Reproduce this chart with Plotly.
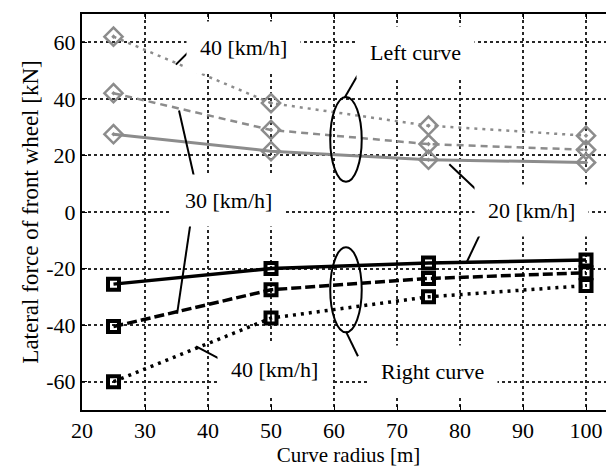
import plotly.graph_objects as go

# ---- data ----
radius = [25, 50, 75, 100]
left_40 = [62, 38.5, 30.5, 27]
left_30 = [42, 29, 24, 22]
left_20 = [27.5, 21.5, 18.5, 17.5]
right_20 = [-25.5, -20, -18, -17]
right_30 = [-40.5, -27.5, -23.5, -21.5]
right_40 = [-60, -37.5, -30, -26]

x_ticks = [20, 30, 40, 50, 60, 70, 80, 90, 100]
y_ticks = [-60, -40, -20, 0, 20, 40, 60]
y_ticktext = ["-60", "-40", "-20", "0", "20", "40", "60"]

FONT = "Liberation Serif"
GRAY = "#8c8c8c"

fig = go.Figure()

def add(y, color, dash, width, symbol, msize, mlw):
    fig.add_trace(go.Scatter(
        x=radius, y=y, mode="lines+markers",
        line=dict(color=color, dash=dash, width=width),
        marker=dict(symbol=symbol, size=msize, color=color,
                    line=dict(color=color, width=mlw)),
        showlegend=False))

add(left_40, GRAY, "3px,5px", 2.5, "diamond-open-dot", 14, 2.5)
add(left_30, GRAY, "7px,5px", 2.5, "diamond-open-dot", 14, 2.5)
add(left_20, GRAY, "solid", 3, "diamond-open-dot", 14, 2.5)
add(right_20, "black", "solid", 3.5, "square-open", 11, 4)
add(right_30, "black", "10px,4px", 3.5, "square-open", 11, 4)
add(right_40, "black", "3px,5px", 3.5, "square-open", 11, 4)

labels = [
    ("40 [km/h]", 45.7, 58.1),
    ("Left curve", 72.9, 56.3),
    ("30 [km/h]", 43.2, 3.9),
    ("20 [km/h]", 91.4, 0.4),
    ("40 [km/h]", 50.5, -55.6),
    ("Right curve", 75.7, -56.3),
]
for txt, lx, ly in labels:
    fig.add_annotation(x=lx, y=ly, text=txt, showarrow=False,
                       font=dict(family=FONT, size=22, color="black"),
                       bgcolor="white", borderpad=13)

pointers = [
    (34.9, 52.1, 38.1, 59.2),
    (61.7, 40.5, 63.7, 48.2),
    (35.4, 35.9, 37.9, 11.3),
    (37.3, -2.8, 35.1, -35.9),
    (78.3, 16.9, 83.8, 5.3),
    (83.5, -6.3, 81.1, -17.6),
    (38.1, -47.5, 43.2, -53.5),
    (61.9, -42.3, 63.8, -51.0),
]
for x0, y0, x1, y1 in pointers:
    fig.add_shape(type="line", x0=x0, y0=y0, x1=x1, y1=y1,
                  line=dict(color="black", width=2), layer="above")

for cy in (25.7, -27.5):
    fig.add_shape(type="circle", x0=59.4, x1=64.4, y0=cy - 15, y1=cy + 15,
                  line=dict(color="black", width=2), layer="above")

axis_common = dict(
    showgrid=True, gridcolor="rgb(40,40,40)", griddash="dot", gridwidth=1.5,
    zeroline=False, showline=True, linecolor="black", linewidth=2,
    mirror="ticks", ticks="inside", ticklen=5, tickcolor="black",
    tickfont=dict(family=FONT, size=22, color="black"),
)

fig.update_xaxes(range=[20, 104.6], tickvals=x_ticks,
                 title=dict(text="Curve radius [m]",
                            font=dict(family=FONT, size=21, color="black"),
                            standoff=5),
                 **axis_common)
fig.update_yaxes(range=[-70, 70], tickvals=y_ticks, ticktext=y_ticktext,
                 title=dict(text="Lateral force of front wheel [kN]",
                            font=dict(family=FONT, size=23, color="black"),
                            standoff=1),
                 **axis_common)

fig.update_layout(
    template="none",
    width=614, height=467,
    margin=dict(l=74, r=7, t=6, b=65, autoexpand=False),
    plot_bgcolor="white", paper_bgcolor="white",
    font=dict(family=FONT),
)

fig.write_html("out.html")
